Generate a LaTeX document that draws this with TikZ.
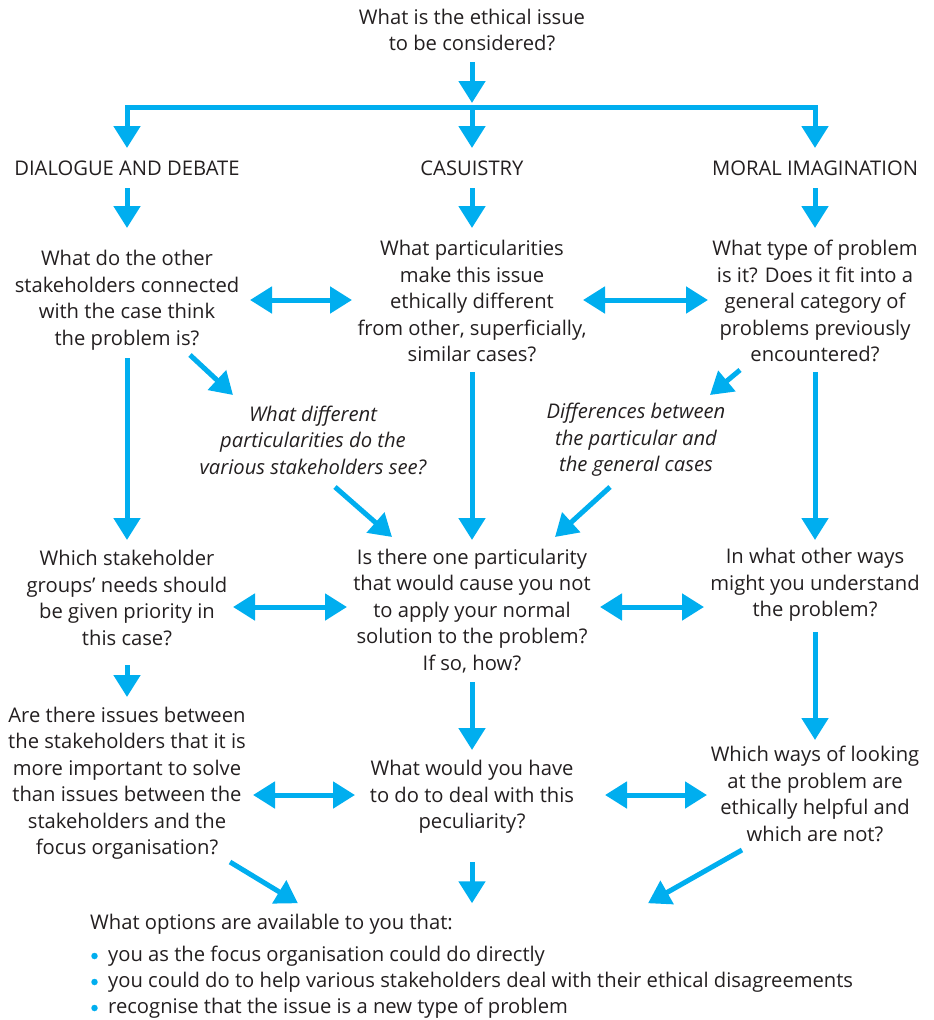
\documentclass[tikz,border=0pt]{standalone}
\usepackage{fontspec}
\setmainfont{Open Sans}
\usetikzlibrary{arrows.meta,calc}
\definecolor{acyan}{HTML}{00AEEF}
\definecolor{ink}{HTML}{231F20}
\tikzset{
  txt/.style={align=center, inner sep=0pt, text=ink, font=\fontsize{20.2}{26.5}\selectfont},
  itxt/.style={txt, font=\fontsize{20.2}{26.5}\selectfont\itshape},
  lefttxt/.style={inner sep=0pt, text=ink, anchor=base west, text height=15pt, text depth=4.5pt, font=\fontsize{20.2}{26.5}\selectfont},
  dot/.style={circle, fill=acyan, inner sep=0pt, minimum size=6.5pt},
  conn/.style={line width=5pt, draw=acyan, line join=miter, -{Triangle[length=22pt,width=26pt]}},
  dbl/.style={line width=5pt, draw=acyan, {Triangle[length=22pt,width=26pt]}-{Triangle[length=22pt,width=26pt]}},
}
\begin{document}
\begin{tikzpicture}[x=1pt,y=-1pt]
\useasboundingbox (0,0) rectangle (934,1020);

% starting question and the three approaches
\node[txt] (T) at (472,30) {What is the ethical issue\\to be considered?};
\node[txt] (h1) at (127,168) {DIALOGUE AND DEBATE};
\node[txt] (h2) at (472,168) {CASUISTRY};
\node[txt] (h3) at (815,168) {MORAL IMAGINATION};
\coordinate (bm) at (472,107);

% first row of questions
\node[txt] (qL1) at (127,300) {What do the other\\stakeholders connected\\with the case think\\the problem is?};
\node[txt] (qM1) at (472,301) {What particularities\\make this issue\\ethically different\\from other, superficially,\\similar cases?};
\node[txt] (qR1) at (815,301) {What type of problem\\is it? Does it fit into a\\general category of\\problems previously\\encountered?};

% italic cross-links
\node[itxt] (iL) at (313,440) {What different\\particularities do the\\various stakeholders see?};
\node[itxt] (iR) at (636,440) {Differences between\\the particular and\\the general cases};

% second row
\node[txt] (qL2) at (127,598) {Which stakeholder\\groups' needs should\\be given priority in\\this case?};
\node[txt] (qM2) at (472,611) {Is there one particularity\\that would cause you not\\to apply your normal\\solution to the problem?\\If so, how?};
\node[txt] (qR2) at (815,585) {In what other ways\\might you understand\\the problem?};

% third row
\node[txt] (qL3) at (127,783) {Are there issues between\\the stakeholders that it is\\more important to solve\\than issues between the\\stakeholders and the\\focus organisation?};
\node[txt] (qM3) at (472,797) {What would you have\\to do to deal with this\\peculiarity?};
\node[txt] (qR3) at (815,794) {Which ways of looking\\at the problem are\\ethically helpful and\\which are not?};

% options list
\node[lefttxt] (opts) at (90,929.5) {What options are available to you that:};
\node[dot] (d1) at (94.5,956) {};
\node[dot] (d2) at (94.5,982) {};
\node[dot] (d3) at (94.5,1008) {};
\node[lefttxt] (b1) at (108,961) {you as the focus organisation could do directly};
\node[lefttxt] (b2) at (108,987) {you could do to help various stakeholders deal with their ethical disagreements};
\node[lefttxt] (b3) at (108,1013) {recognise that the issue is a new type of problem};

% top split
\draw[conn] ($(T)+(0,32)$) -- ($(T)+(0,73)$);
\draw[conn] (bm) -| ($(h1)+(0,-20)$);
\draw[conn] (bm) -| ($(h3)+(0,-20)$);
\draw[conn] (bm) -- ($(h2)+(0,-20)$);

% heading to first questions
\draw[conn] ($(h1)+(0,20)$) -- ($(qL1)+(0,-72)$);
\draw[conn] ($(h2)+(0,20)$) -- ($(qM1)+(0,-73)$);
\draw[conn] ($(h3)+(0,20)$) -- ($(qR1)+(0,-73)$);

% column flows
\draw[conn] ($(qL1)+(0,58)$) -- ($(qL2)+(0,-58)$);
\draw[conn] ($(qM1)+(0,71)$) -- ($(qM2)+(0,-71)$);
\draw[conn] ($(qR1)+(0,71)$) -- ($(qR2)+(0,-45)$);
\draw[conn] ($(qL2)+(0,67)$) -- ($(qL3)+(0,-86)$);
\draw[conn] ($(qM2)+(0,71)$) -- ($(qM3)+(0,-47)$);
\draw[conn] ($(qR2)+(0,47)$) -- ($(qR3)+(0,-54)$);

% diagonal links through the italic notes
\draw[conn] ($(qL1)+(63,55)$) -- ($(iL)+(-80,-45)$);
\draw[conn] ($(iL)+(22,47)$) -- ($(qM2)+(-80,-74)$);
\draw[conn] ($(qR1)+(-75,69)$) -- ($(iR)+(74,-45)$);
\draw[conn] ($(iR)+(-26,47)$) -- ($(qM2)+(83,-74)$);

% two-way links between columns
\draw[dbl] ($(qL1)+(123,0)$) -- ($(qM1)+(-120,-1)$);
\draw[dbl] ($(qM1)+(111,-1)$) -- ($(qR1)+(-107,-1)$);
\draw[dbl] ($(qL2)+(106,9)$) -- ($(qM2)+(-125,-4)$);
\draw[dbl] ($(qM2)+(128,-4)$) -- ($(qR2)+(-111,22)$);
\draw[dbl] ($(qL3)+(126,12)$) -- ($(qM3)+(-117,-2)$);
\draw[dbl] ($(qM3)+(133,-2)$) -- ($(qR3)+(-108,1)$);

% into the options
\draw[conn] ($(qL3)+(103,79)$) -- ($(opts.west)+(208,-21)$);
\draw[conn] ($(qM3)+(0,65)$) -- ($(opts.west)+(382,-21)$);
\draw[conn] ($(qR3)+(-73,56)$) -- ($(opts.west)+(558,-21)$);
\end{tikzpicture}
\end{document}
